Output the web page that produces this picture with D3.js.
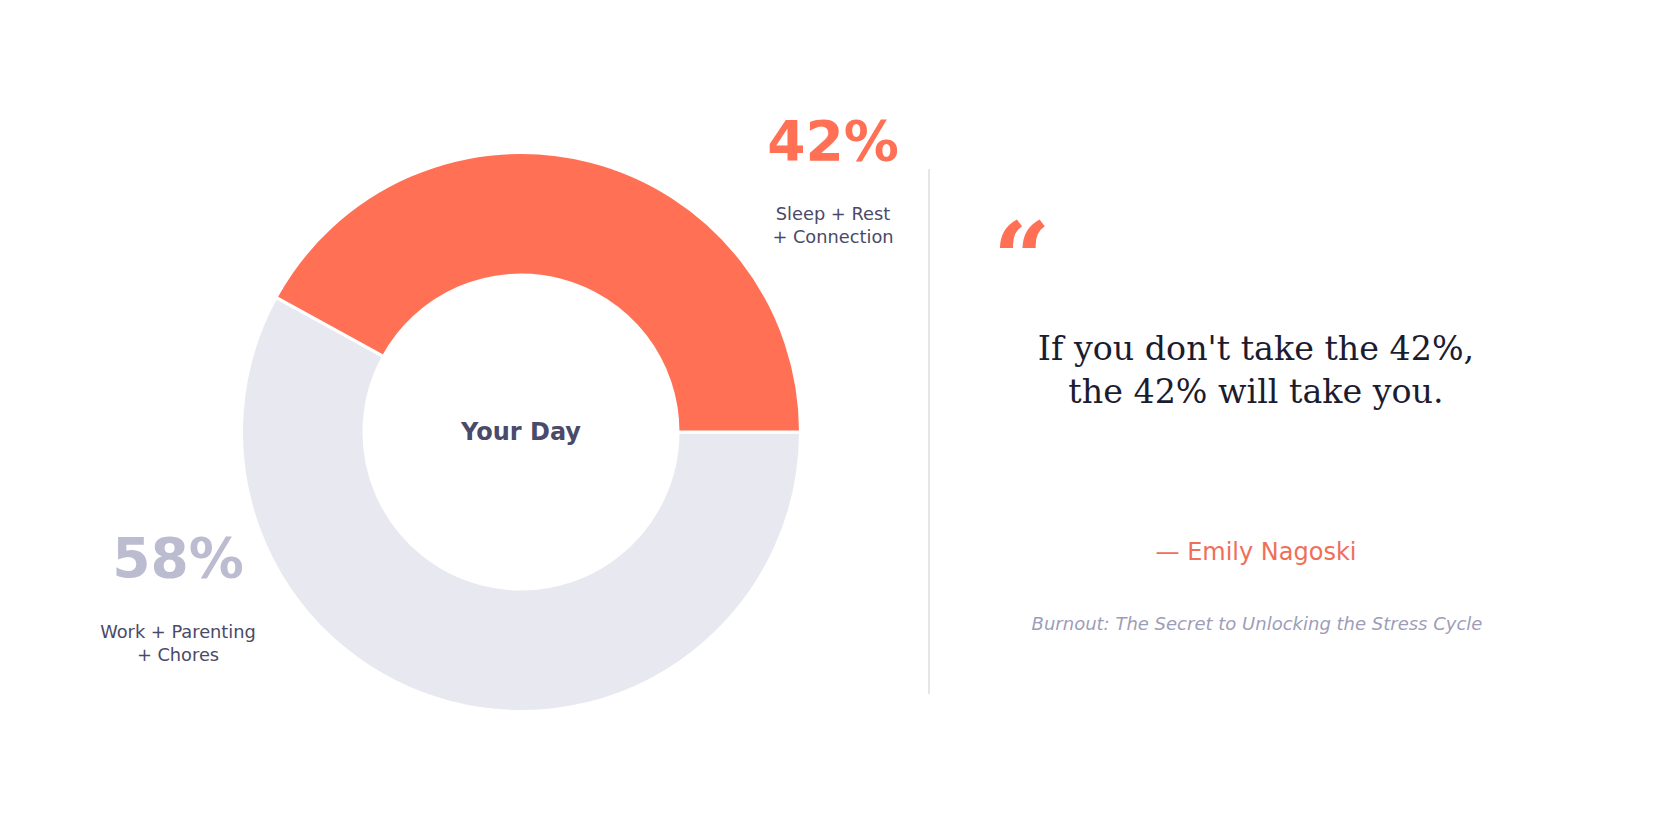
<!DOCTYPE html>
<html>
<head>
<meta charset="utf-8">
<script src="https://cdn.jsdelivr.net/npm/d3@7"></script>
<style>
  html, body { margin: 0; padding: 0; background: #fff; }
  svg { display: block; }
  text { font-family: "DejaVu Sans", sans-serif; }
</style>
</head>
<body>
<div id="chart"></div>
<script>
const width = 1680;
const height = 840;

// slices, in drawing order starting at 3 o'clock
const categories = ['Work + Parenting + Chores', 'Sleep + Rest + Connection'];
const values = [58, 42];
const valueLabels = ['58%', '42%'];
const labelLines = [['Work + Parenting', '+ Chores'], ['Sleep + Rest', '+ Connection']];
const sliceColors = ['#e8e8f0', '#ff7055'];
const pctColors = ['#bcbcd0', '#ff7055'];

const centerTitle = 'Your Day';
const quoteLines = ["If you don't take the 42%,", 'the 42% will take you.'];
const author = '\u2014 Emily Nagoski';
const source = 'Burnout: The Secret to Unlocking the Stress Cycle';

const cx = 521, cy = 432;
const outerR = 279.5, innerR = 157;

let svg = d3.select("#chart")
    .append("svg")
    .attr("width", width)
    .attr("height", height);

let pie = d3.pie()
    .sort(null)
    .startAngle(Math.PI / 2)
    .endAngle(Math.PI / 2 + 2 * Math.PI);

let arc = d3.arc()
    .innerRadius(innerR)
    .outerRadius(outerR);

let donut = svg.append("g")
    .attr("transform", `translate(${cx},${cy})`);

donut.selectAll(".slice")
    .data(pie(values))
    .join("path")
    .attr("class", "slice")
    .attr("d", arc)
    .attr("fill", (d, i) => sliceColors[i])
    .attr("stroke", "#fff")
    .attr("stroke-width", 3)
    .attr("stroke-linejoin", "miter");

donut.append("text")
    .attr("x", 0)
    .attr("y", 8)
    .attr("text-anchor", "middle")
    .attr("font-size", 24)
    .attr("font-weight", "bold")
    .attr("fill", "#4a4a6a")
    .text(centerTitle);

// outside labels: big percentage + description
const labelPos = [
    {x: 178, y: 577},
    {x: 833, y: 160}
];

labelPos.forEach((p, i) => {
    let g = svg.append("g").attr("class", "slice-label");
    g.append("text")
        .attr("x", p.x)
        .attr("y", p.y)
        .attr("text-anchor", "middle")
        .attr("font-size", 55)
        .attr("font-weight", "bold")
        .attr("fill", pctColors[i])
        .text(valueLabels[i]);
    g.selectAll(".desc")
        .data(labelLines[i])
        .join("text")
        .attr("class", "desc")
        .attr("x", p.x)
        .attr("y", (d, j) => p.y + (i === 0 ? 61 : 60) + j * 23)
        .attr("text-anchor", "middle")
        .attr("font-size", 17.8)
        .attr("fill", "#4a4a68")
        .text(d => d);
});

// divider
svg.append("line")
    .attr("x1", 929).attr("x2", 929)
    .attr("y1", 169).attr("y2", 694)
    .attr("stroke", "#e6e6e6")
    .attr("stroke-width", 2);

// quote panel
svg.append("text")
    .attr("x", 993)
    .attr("y", 293)
    .style("font-family", "'DejaVu Serif', serif")
    .attr("font-size", 100)
    .attr("font-weight", "bold")
    .attr("fill", "#ff7055")
    .text('\u201C');

svg.selectAll(".quote")
    .data(quoteLines)
    .join("text")
    .attr("class", "quote")
    .attr("x", 1256)
    .attr("y", (d, i) => 360 + i * 43)
    .attr("text-anchor", "middle")
    .style("font-family", "'DejaVu Serif', serif")
    .attr("font-size", 33.3)
    .attr("fill", "#1c1c30")
    .text(d => d);

svg.append("text")
    .attr("x", 1256)
    .attr("y", 560)
    .attr("text-anchor", "middle")
    .attr("font-size", 24)
    .attr("fill", "#ef6f57")
    .text(author);

svg.append("text")
    .attr("x", 1257)
    .attr("y", 630)
    .attr("text-anchor", "middle")
    .attr("font-size", 18)
    .attr("font-style", "italic")
    .attr("fill", "#9d9db8")
    .text(source);
</script>
</body>
</html>
